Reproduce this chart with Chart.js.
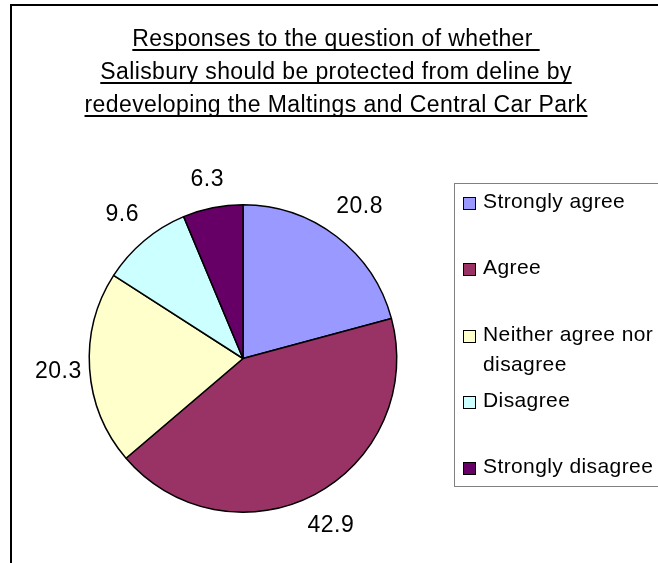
<!DOCTYPE html>
<html>
<head>
<meta charset="utf-8">
<title>Salisbury survey responses</title>
<script src="https://cdn.jsdelivr.net/npm/chart.js@4.4.1/dist/chart.umd.min.js"></script>
<style>
  html, body { margin: 0; padding: 0; background: #fff; }
  #wrap { width: 658px; height: 563px; position: relative; }
</style>
</head>
<body>
<div id="wrap"><canvas id="responses"></canvas></div>
<script>
  // Survey data
  const titleLines = [
    'Responses to the question of whether ',
    'Salisbury should be protected from deline by',
    'redeveloping the Maltings and Central Car Park'
  ];
  const categories = ['Strongly agree', 'Agree', 'Neither agree nor disagree', 'Disagree', 'Strongly disagree'];
  const legendLines = [['Strongly agree'], ['Agree'], ['Neither agree nor', 'disagree'], ['Disagree'], ['Strongly disagree']];
  const percentages = [20.8, 42.9, 20.3, 9.6, 6.3];

  const sliceColours = ['#9999FF', '#993366', '#FFFFCC', '#CCFFFF', '#660066'];
  const FONT = '"Liberation Sans", Arial, sans-serif';

  function setFont(ctx, size, spacing) {
    ctx.font = size + 'px ' + FONT;
    if ('letterSpacing' in ctx) ctx.letterSpacing = spacing + 'px';
  }

  // Outer frame and underlined title
  const frameTitle = {
    id: 'frameTitle',
    beforeDraw(chart) {
      const ctx = chart.ctx;
      ctx.save();
      ctx.fillStyle = '#fff';
      ctx.fillRect(0, 0, chart.width, chart.height);

      ctx.strokeStyle = '#000';
      ctx.lineWidth = 2;
      ctx.beginPath();
      ctx.moveTo(11, chart.height);
      ctx.lineTo(11, 5);
      ctx.lineTo(chart.width, 5);
      ctx.stroke();

      setFont(ctx, 23, 0.4);
      ctx.fillStyle = '#000';
      ctx.textBaseline = 'alphabetic';
      titleLines.forEach((line, i) => {
        const w = ctx.measureText(line).width;
        const x = 336 - w / 2;
        const base = 46 + i * 33;
        ctx.fillText(line, x, base);
        ctx.fillRect(x, base + 3, w, 2);
      });
      ctx.restore();
    }
  };

  // Value labels just outside each slice
  const sliceLabels = {
    id: 'sliceLabels',
    afterDatasetsDraw(chart) {
      const ctx = chart.ctx;
      const meta = chart.getDatasetMeta(0);
      ctx.save();
      setFont(ctx, 23, 0.5);
      ctx.fillStyle = '#000';
      ctx.textAlign = 'left';
      ctx.textBaseline = 'middle';
      const h = 14;
      meta.data.forEach((arc, i) => {
        const p = arc.getProps(['x', 'y', 'startAngle', 'endAngle', 'outerRadius'], true);
        const text = percentages[i].toFixed(1);
        const w = ctx.measureText(text).width;
        const mid = (p.startAngle + p.endAngle) / 2;
        const c = Math.cos(mid), s = Math.sin(mid);
        const r = p.outerRadius + 18 + (w / 2) * Math.abs(c) + (h / 2) * Math.abs(s);
        // keep labels inside the plot margin
        const cx = Math.max(p.x + c * r, 35 + w / 2);
        ctx.fillText(text, cx - w / 2, p.y + s * r);
      });
      ctx.restore();
    }
  };

  // Boxed legend on the right
  const legendBox = {
    id: 'legendBox',
    afterDraw(chart) {
      const ctx = chart.ctx;
      const colours = chart.data.datasets[0].backgroundColor;
      ctx.save();
      ctx.strokeStyle = '#808080';
      ctx.lineWidth = 1;
      ctx.strokeRect(454.5, 183.5, 240, 303);
      setFont(ctx, 21, 0.4);
      ctx.textBaseline = 'middle';
      legendLines.forEach((lines, i) => {
        const y = Math.round(202 + i * 66.25);
        ctx.fillStyle = colours[i];
        ctx.fillRect(463, y - 5, 13, 13);
        ctx.strokeStyle = '#000';
        ctx.strokeRect(463.5, y - 4.5, 12, 12);
        ctx.fillStyle = '#000';
        lines.forEach((line, j) => ctx.fillText(line, 483, y + j * 30));
      });
      ctx.restore();
    }
  };

  new Chart(document.getElementById('responses'), {
    type: 'pie',
    data: {
      labels: categories,
      datasets: [{
        data: percentages,
        backgroundColor: sliceColours,
        borderColor: '#000',
        borderWidth: 1.5
      }]
    },
    options: {
      responsive: true,
      maintainAspectRatio: false,
      animation: false,
      events: [],
      layout: { padding: { left: 88, top: 204, right: 260, bottom: 50 } },
      plugins: {
        legend: { display: false },
        title: { display: false },
        tooltip: { enabled: false }
      }
    },
    plugins: [frameTitle, sliceLabels, legendBox]
  });
</script>
</body>
</html>
